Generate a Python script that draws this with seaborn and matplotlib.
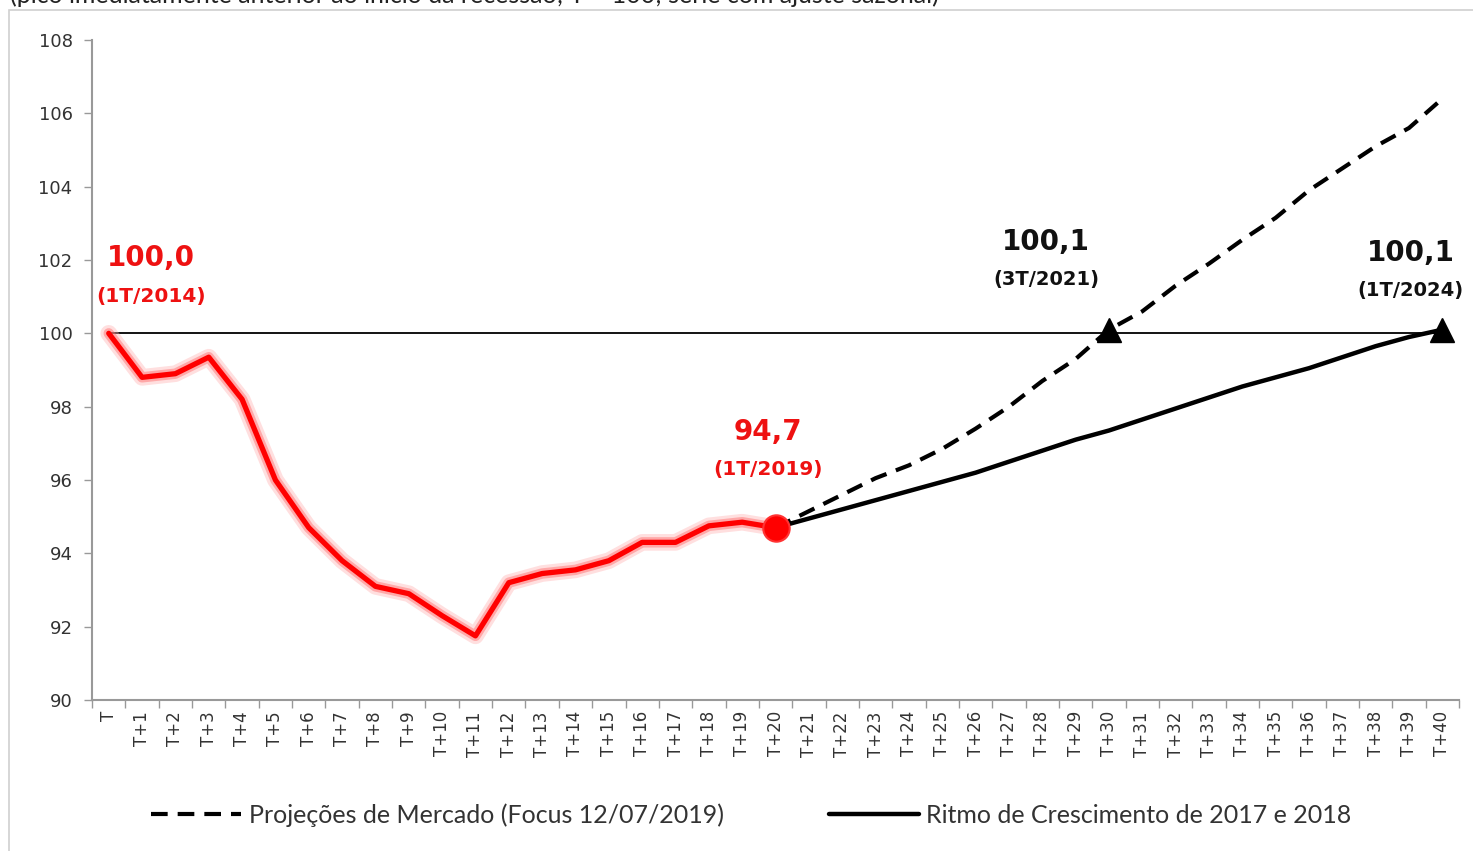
import numpy as np
import pandas as pd
import matplotlib.pyplot as plt
import seaborn as sns
from matplotlib.patches import Rectangle
from matplotlib.ticker import MultipleLocator, FixedLocator

# períodos (T = 1T/2014)
categorias = ["T"] + [f"T+{i}" for i in range(1, 41)]

# PIB observado, T .. T+20
recessao = [100.0, 98.8, 98.9, 99.35, 98.2, 96.0, 94.7, 93.8, 93.1, 92.9, 92.3,
            91.75, 93.2, 93.45, 93.55, 93.8, 94.3, 94.3, 94.75, 94.85, 94.7]

# projeções, T+20 .. T+40
focus = [94.7, 95.15, 95.6, 96.05, 96.4, 96.85, 97.4, 98.0, 98.7, 99.3, 100.1,
         100.6, 101.3, 101.9, 102.55, 103.15, 103.9, 104.5, 105.1, 105.6, 106.4]
ritmo = [94.7, 94.95, 95.2, 95.45, 95.7, 95.95, 96.2, 96.5, 96.8, 97.1, 97.35,
         97.65, 97.95, 98.25, 98.55, 98.8, 99.05, 99.35, 99.65, 99.9, 100.1]

referencia = [100.0] * len(categorias)

pos = np.arange(len(categorias))
df_rec = pd.DataFrame({"pos": pos[:len(recessao)], "valor": recessao})
df_focus = pd.DataFrame({"pos": pos[20:], "valor": focus})
df_ritmo = pd.DataFrame({"pos": pos[20:], "valor": ritmo})
df_ref = pd.DataFrame({"pos": pos, "valor": referencia})

sns.set_style("white")
plt.rcParams["font.family"] = ["DejaVu Sans"]
estreita = ["Lato", "DejaVu Sans"]

fig = plt.figure(figsize=(14.73, 8.51), dpi=100)
ax = fig.add_axes([0.0625, 0.1774, 0.928, 0.7756])

# moldura cinza e título cortado
fig.patches.append(Rectangle((9 / 1473, -0.05), 1.1, 1.05 - 10 / 851,
                             transform=fig.transFigure, fill=False,
                             edgecolor="#d0d0d0", lw=1.2))
fig.text(10 / 1473, 1 - 3 / 851,
         "(pico imediatamente anterior ao início da recessão; T = 100; série com ajuste sazonal)",
         ha="left", va="baseline", fontsize=18, color="#222222", family=estreita)

sns.lineplot(data=df_ref, x="pos", y="valor", color="black", lw=1.3, ax=ax, legend=False)

# brilho da linha vermelha
sns.lineplot(data=df_rec, x="pos", y="valor", color="#ffb0b0", lw=12, alpha=0.4, ax=ax)
sns.lineplot(data=df_rec, x="pos", y="valor", color="#ff6666", lw=7.5, alpha=0.45, ax=ax)
sns.lineplot(data=df_rec, x="pos", y="valor", color="#ff0000", lw=3.8, ax=ax)

sns.lineplot(data=df_focus, x="pos", y="valor", color="black", lw=3,
             ax=ax, label="Projeções de Mercado (Focus 12/07/2019)")
ax.lines[-1].set_dashes([4, 2.4])
sns.lineplot(data=df_ritmo, x="pos", y="valor", color="black", lw=3.2,
             ax=ax, label="Ritmo de Crescimento de 2017 e 2018")
if ax.get_legend() is not None:
    ax.get_legend().remove()

# marcadores
ax.plot(df_rec["pos"].iloc[-1], df_rec["valor"].iloc[-1], "o", color="#ff0000",
        ms=19, mec="#ff3333", mew=1.5, zorder=5)
i30 = categorias.index("T+30") - 20
ax.plot(df_focus["pos"].iloc[i30], df_focus["valor"].iloc[i30], "^", color="black", ms=17, zorder=5)
ax.plot(df_ritmo["pos"].iloc[-1], df_ritmo["valor"].iloc[-1], "^", color="black", ms=17, zorder=5)

# rótulos
def rotulo(x, y, txt, sub, dx, dy1, dy2, cor, s1, s2):
    ax.annotate(txt, (x, y), xytext=(dx, dy1), textcoords="offset pixels",
                ha="center", va="center", fontsize=s1, fontweight="bold", color=cor)
    ax.annotate(sub, (x, y), xytext=(dx, dy2), textcoords="offset pixels",
                ha="center", va="center", fontsize=s2, fontweight="bold", color=cor)

rotulo(0, recessao[0], "100,0", "(1T/2014)", 42, 75, 37, "#ee1111", 20, 14.5)
rotulo(20, recessao[-1], "94,7", "(1T/2019)", -8, 96, 58, "#ee1111", 20, 14.5)
rotulo(30, focus[i30], "100,1", "(3T/2021)", -63, 88, 50, "#111111", 20, 14)
rotulo(40, ritmo[-1], "100,1", "(1T/2024)", -32, 77, 39, "#111111", 20, 14)

ax.set_xlim(-0.5, 40.5)
ax.set_ylim(90, 108)
ax.yaxis.set_major_locator(MultipleLocator(2))
ax.set_xticks(pos)
ax.set_xticklabels(categorias, rotation=90, fontsize=12, color="#333333")
ax.xaxis.set_minor_locator(FixedLocator(np.arange(-0.5, 41, 1)))
ax.tick_params(axis="x", which="major", length=0, pad=8)
ax.tick_params(axis="x", which="minor", length=6, color="#999999", width=1, bottom=True)
ax.tick_params(axis="y", length=6, color="#999999", width=1, labelsize=13,
               labelcolor="#333333", left=True, pad=8)
ax.set_xlabel("")
ax.set_ylabel("")
for s in ["top", "right"]:
    ax.spines[s].set_visible(False)
for s in ["left", "bottom"]:
    ax.spines[s].set_color("#999999")
    ax.spines[s].set_linewidth(1.5)

h, l = ax.get_legend_handles_labels()
leg = fig.legend(h, l, loc="center", bbox_to_anchor=(0.51, 0.042), ncol=2, frameon=False,
                 handlelength=3.6, columnspacing=4.2, handletextpad=0.3,
                 prop={"family": estreita, "size": 18})
for t in leg.get_texts():
    t.set_color("#333333")

fig.savefig("out.png", dpi=100)
